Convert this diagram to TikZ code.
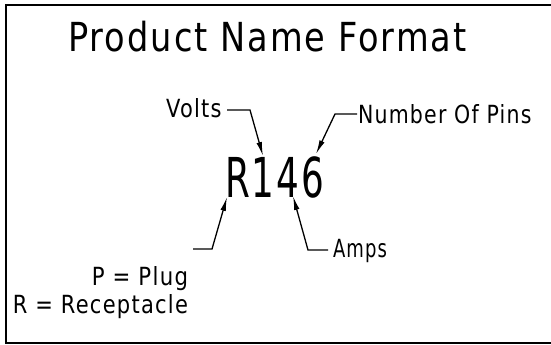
\documentclass[tikz,border=0pt]{standalone}
\usepackage{fontspec}
\setmainfont[LetterSpace=6]{DejaVu Sans}
\usetikzlibrary{arrows.meta}
\newcommand{\sxt}[2]{\scalebox{#1}[1]{#2}}
\tikzset{
  lbl/.style={inner sep=0pt, outer sep=0pt, font=\fontsize{25}{25}\selectfont},
  ttl/.style={inner sep=0pt, outer sep=0pt, font=\fontsize{40}{40}\selectfont},
  big/.style={inner sep=0pt, outer sep=0pt, font=\fontsize{55}{55}\selectfont},
  leader/.style={line width=1.3pt, -{Latex[length=14pt,width=5.5pt]}},
  frame/.style={line width=2pt}
}
\begin{document}
\begin{tikzpicture}[x=1pt,y=-1pt]
\useasboundingbox (0,0) rectangle (551,345);
\draw[frame] (6,5) rectangle (560,343);
\node[ttl, anchor=base west] (title) at (68,52) {\sxt{0.84}{Product Name Format}};
\node[big, anchor=base west] (code) at (225,197) {\sxt{0.65}{R146}};
\node[lbl, anchor=base west] (volts) at (166,117) {\sxt{0.84}{Volts}};
\node[lbl, anchor=base west] (pins) at (358,123) {\sxt{0.82}{Number Of Pins}};
\node[lbl, anchor=base west] (amps) at (333,257) {\sxt{0.72}{Amps}};
\node[lbl, anchor=base east] (plug) at (188,285) {\sxt{0.85}{P = Plug}};
\node[lbl, anchor=base east] (recep) at (188,313) {\sxt{0.84}{R = Receptacle}};
% leader points
\coordinate (v0) at (227,110);
\coordinate (v1) at (250,110);
\coordinate (vt) at (263,156);
\coordinate (n0) at (357,114);
\coordinate (n1) at (335,114);
\coordinate (nt) at (316,154);
\coordinate (p0) at (193,249);
\coordinate (p1) at (212,249);
\coordinate (pt) at (227,197);
\coordinate (a0) at (328,250);
\coordinate (a1) at (308,250);
\coordinate (at) at (293,196);
\draw[leader] (v0) -- (v1) -- (vt);
\draw[leader] (n0) -- (n1) -- (nt);
\draw[leader] (p0) -- (p1) -- (pt);
\draw[leader] (a0) -- (a1) -- (at);
\end{tikzpicture}
\end{document}
